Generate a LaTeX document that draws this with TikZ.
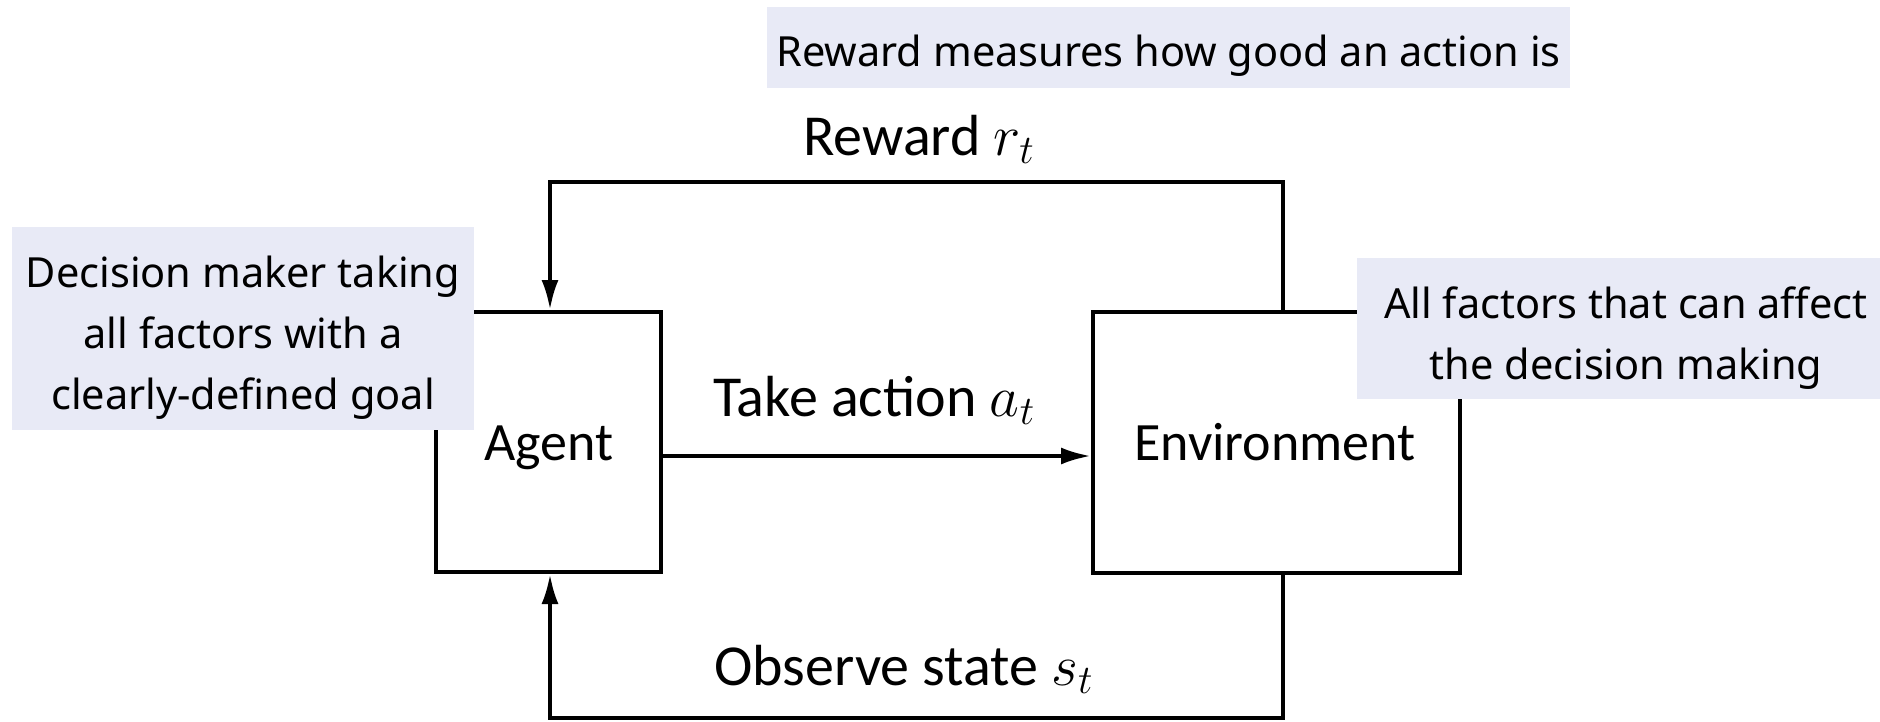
\RequirePackage{fix-cm}
\documentclass[tikz,border=0pt]{standalone}
\usepackage{fontspec}
\setmainfont{Carlito}
\newfontfamily\notefont{Noto Sans}
\usetikzlibrary{arrows.meta, positioning}

\definecolor{notebg}{RGB}{232,234,246}

\tikzset{
	block/.style={draw, line width=4pt, inner sep=0pt},
	link/.style={line width=4pt},
	tip/.style={-{Latex[length=30pt,width=17pt]}},
	boxtext/.style={anchor=base west, inner sep=0pt, font=\fontsize{54}{64}\selectfont},
	lbl/.style={anchor=base west, inner sep=0pt, font=\fontsize{58}{68}\selectfont},
	note/.style={inner sep=0pt, align=center, font=\notefont\fontsize{41.5}{61}\selectfont},
}

\begin{document}
\begin{tikzpicture}[x=1pt, y=-1pt]
	\useasboundingbox (0,0) rectangle (1880,721);
	\clip (0,0) rectangle (1880,721);

	\node[block, minimum width=225pt, minimum height=260pt] (agent) at (548.5,442) {};
	\node[block, minimum width=367pt, minimum height=261pt] (env) at (1276.5,442) {};
	\node[boxtext] (agentlbl) at (484,460) {Agent};
	\node[boxtext] (envlbl) at (1134,460) {Environment};

	\coordinate (rr) at (1283,182);
	\coordinate (rl) at (550,182);
	\coordinate (sr) at (1283,718);
	\coordinate (sl) at (550,718);

	% reward loop
	\draw[link, tip] (env.north -| rr) -- (rr) -- (rl) -- (agent.north -| rl);
	% action
	\draw[link, tip] (agent.east |- 0,456) -- (env.west |- 0,456);
	% state loop
	\draw[link, tip] (env.south -| sr) -- (sr) -- (sl) -- (agent.south -| sl);

	\node[lbl] (reward) at (803,155) {Reward $r_t$};
	\node[lbl] (action) at (713,416) {Take action $a_t$};
	\node[lbl] (state) at (714,685) {Observe state $s_t$};

	% notes
	\fill[notebg] (767,7) rectangle (1570,88);
	\fill[notebg] (12,227) rectangle (474,430);
	\fill[notebg] (1357,258) rectangle (1880,399);
	\node[note] (rnote) at (1168.5,56) {Reward measures how good an action is};
	\node[note] (anote) at (243,338) {Decision maker taking\\all factors with a\\clearly-defined goal};
	\node[note] (enote) at (1626,338) {All factors that can affect\\the decision making};
\end{tikzpicture}
\end{document}
